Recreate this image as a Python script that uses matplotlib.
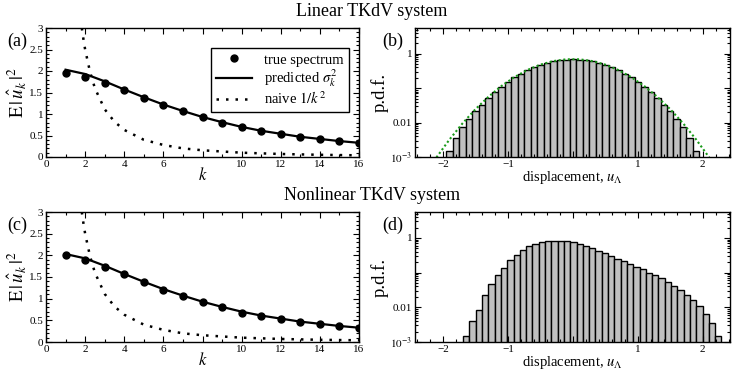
import numpy as np
import matplotlib
matplotlib.use("Agg")
import matplotlib.pyplot as plt
from matplotlib.ticker import MultipleLocator, FixedLocator, NullFormatter

plt.rcParams['font.family'] = ['Liberation Serif', 'DejaVu Serif']
plt.rcParams['mathtext.fontset'] = 'stix'

# spectrum panels (a) and (c)
k = [1, 2, 3, 4, 5, 6, 7, 8, 9, 10, 11, 12, 13, 14, 15, 16]
true_a = [1.95, 1.86, 1.72, 1.56, 1.38, 1.21, 1.06, 0.92, 0.80, 0.69, 0.61, 0.53, 0.47, 0.42, 0.37, 0.33]
true_c = [2.00, 1.89, 1.73, 1.57, 1.38, 1.20, 1.07, 0.93, 0.80, 0.68, 0.60, 0.52, 0.46, 0.41, 0.36, 0.33]
pred = [2.03, 1.93, 1.76, 1.57, 1.39, 1.22, 1.07, 0.93, 0.81, 0.70, 0.61, 0.54, 0.47, 0.42, 0.37, 0.33]
k_naive = [1.83, 1.9, 2.0, 2.25, 2.5, 3.0, 3.5, 4.0, 5.0, 6.0, 7.0, 8.0, 10.0, 12.0, 14.0, 16.0]
naive = [3.0, 2.78, 2.5, 1.98, 1.6, 1.11, 0.82, 0.63, 0.40, 0.28, 0.20, 0.156, 0.10, 0.07, 0.051, 0.039]
y_ticks = [0, 0.5, 1, 1.5, 2, 2.5, 3]
y_labels = ['0', '0.5', '1', '1.5', '2', '2.5', '3']

# histogram panels (b) and (d)
b_start, b_width = -1.9, 0.1
hist_b = [0.0014, 0.0035, 0.0072, 0.013, 0.021, 0.033, 0.05, 0.075, 0.11, 0.155,
          0.205, 0.26, 0.33, 0.40, 0.47, 0.54, 0.60, 0.65, 0.68, 0.69,
          0.68, 0.65, 0.60, 0.54, 0.47, 0.40, 0.33, 0.26, 0.205, 0.155,
          0.11, 0.075, 0.05, 0.033, 0.021, 0.013, 0.0072, 0.0035, 0.0014]
gauss_x = [-2.1, -1.9, -1.7, -1.5, -1.3, -1.1, -0.9, -0.7, -0.5, -0.3, -0.1,
           0.1, 0.3, 0.5, 0.7, 0.9, 1.1, 1.3, 1.5, 1.7, 1.9, 2.1]
gauss_y = [0.00097, 0.0032, 0.0094, 0.0244, 0.056, 0.115, 0.209, 0.337, 0.482, 0.612, 0.69,
           0.69, 0.612, 0.482, 0.337, 0.209, 0.115, 0.056, 0.0244, 0.0094, 0.0032, 0.00097]

d_start, d_width = -1.64, 0.097
hist_d = [0.0014, 0.0038, 0.0082, 0.022, 0.046, 0.085, 0.14, 0.23, 0.32, 0.45,
          0.57, 0.66, 0.74, 0.79, 0.83, 0.84, 0.81, 0.76, 0.69, 0.60,
          0.51, 0.43, 0.36, 0.30, 0.25, 0.21, 0.175, 0.15, 0.125, 0.10,
          0.085, 0.069, 0.055, 0.042, 0.032, 0.022, 0.016, 0.011, 0.0065, 0.0035, 0.0014]

W, H = 739, 370
fig = plt.figure(figsize=(W / 100, H / 100), dpi=100)


def make_ax(x0, x1, y0, y1):
    return fig.add_axes([x0 / W, 1 - y1 / H, (x1 - x0) / W, (y1 - y0) / H])


def style(ax):
    ax.tick_params(which='both', direction='in', top=True, right=True, labelsize=8, width=0.8, pad=2)
    ax.tick_params(which='major', length=4)
    ax.tick_params(which='minor', length=2)
    for s in ax.spines.values():
        s.set_linewidth(1)


def spectrum(ax, true_vals, label, legend):
    ax.plot(k, pred, '-', color='black', lw=1.6, label=r'predicted $\sigma_k^2$')
    ax.plot(k, true_vals, 'o', color='black', ms=5, label='true spectrum')
    ax.plot(k_naive, naive, color='black', lw=1.8, ls=(0, (1, 2.8)), label=r'naive $1/k^2$')
    ax.set_xlim(0, 16)
    ax.set_ylim(0, 3)
    ax.xaxis.set_major_locator(FixedLocator([0, 2, 4, 6, 8, 10, 12, 14, 16]))
    ax.set_xticklabels(['0', '2', '4', '6', '', '10', '12', '14', '16'])
    ax.xaxis.set_minor_locator(MultipleLocator(1))
    ax.yaxis.set_major_locator(FixedLocator(y_ticks))
    ax.set_yticklabels(y_labels)
    ax.yaxis.set_minor_locator(MultipleLocator(0.1))
    ax.set_xlabel(r'$k$', fontsize=12, labelpad=-1)
    ax.set_ylabel(r'$\mathrm{E}\,|\,\hat{u}_k\,|^2$', fontsize=13.5, labelpad=1)
    style(ax)
    ax.text(-0.125, 0.9, label, transform=ax.transAxes, fontsize=13, va='center')
    if legend:
        h, l = ax.get_legend_handles_labels()
        leg = ax.legend([h[1], h[0], h[2]], [l[1], l[0], l[2]], loc='upper right',
                        bbox_to_anchor=(0.99, 0.9), fontsize=10.5, fancybox=False,
                        edgecolor='black', framealpha=1, handlelength=2.5,
                        borderpad=0.35, labelspacing=0.1)
        leg.get_frame().set_linewidth(1)


def histogram(ax, start, width, vals, label, curve):
    centers = [start + i * width for i in range(len(vals))]
    ax.bar(centers, vals, width=width, bottom=1e-4, color='#c0c0c0',
           edgecolor='black', linewidth=1)
    if curve:
        ax.plot(gauss_x, gauss_y, color='#1a9a1a', lw=1.5, ls=(0, (1, 1.2)))
    ax.set_yscale('log')
    ax.set_xlim(-2.43, 2.42)
    ax.set_ylim(1e-3, 5.6)
    ax.xaxis.set_major_locator(FixedLocator([-2, -1, 0, 1, 2]))
    ax.set_xticklabels(['\u22122', '\u22121', '', '1', '2'])
    ax.xaxis.set_minor_locator(MultipleLocator(0.2))
    ax.yaxis.set_major_locator(FixedLocator([1e-3, 1e-2, 1e-1, 1]))
    ax.set_yticklabels([r'$10^{-3}$', '0.01', '', '1'])
    ax.yaxis.set_minor_formatter(NullFormatter())
    ax.set_xlabel(r'displacement, $u_\Lambda$', fontsize=10.5, labelpad=0)
    ax.set_ylabel('p.d.f.', fontsize=13.5, labelpad=1)
    style(ax)
    ax.text(-0.105, 0.9, label, transform=ax.transAxes, fontsize=13, va='center')


ax_a = make_ax(46, 359, 28, 157)
ax_b = make_ax(415, 730, 28, 157)
ax_c = make_ax(46, 359, 212, 342)
ax_d = make_ax(415, 730, 212, 342)

spectrum(ax_a, true_a, '(a)', True)
spectrum(ax_c, true_c, '(c)', False)
histogram(ax_b, b_start, b_width, hist_b, '(b)', True)
histogram(ax_d, d_start, d_width, hist_d, '(d)', False)

fig.text(372 / W, 1 - 12 / H, 'Linear TKdV system', ha='center', va='center', fontsize=13)
fig.text(372 / W, 1 - 196 / H, 'Nonlinear TKdV system', ha='center', va='center', fontsize=13)

fig.savefig('out.png', dpi=100)
